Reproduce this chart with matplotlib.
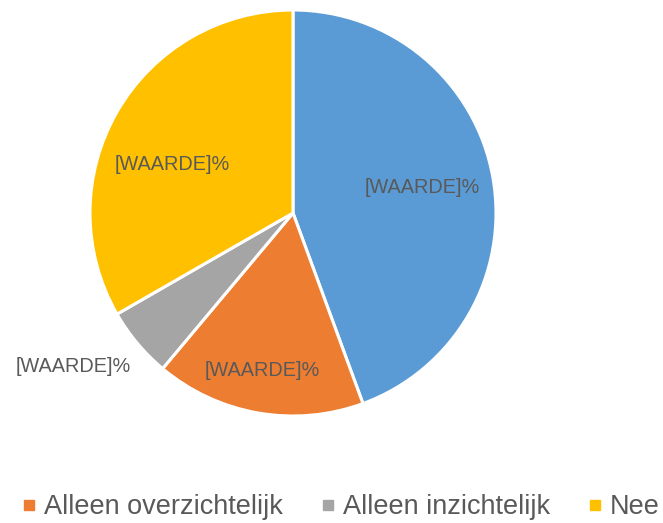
import matplotlib
matplotlib.use("Agg")
import matplotlib.pyplot as plt
from matplotlib.lines import Line2D
import numpy as np

categories = ["Ja", "Alleen overzichtelijk", "Alleen inzichtelijk", "Nee"]
values = [44.4, 16.7, 5.6, 33.3]
labels = ["[WAARDE]%", "[WAARDE]%", "[WAARDE]%", "[WAARDE]%"]
colors = ["#5B9BD5", "#ED7D31", "#A5A5A5", "#FFC000"]

label_r = [0.65, 0.79, 1.32, 0.64]
label_dang = [1.0, -1.0, -5.0, 8.0]

fig = plt.figure(figsize=(6.63, 5.23), dpi=100)
ax = fig.add_axes([90/663, 107/523, 406/663, 406/523])
wedges, _ = ax.pie(values, colors=colors, startangle=90, counterclock=False,
                   radius=1.0, wedgeprops=dict(edgecolor="white", linewidth=2.2))
ax.set_xlim(-1, 1)
ax.set_ylim(-1, 1)
ax.set_aspect("equal")
ax.axis("off")

for w, lab, r, da in zip(wedges, labels, label_r, label_dang):
    ang = np.deg2rad((w.theta1 + w.theta2) / 2 + da)
    ax.text(r*np.cos(ang), r*np.sin(ang), lab, ha="center", va="center",
            fontsize=14.3, color="#595959", family="Liberation Sans", clip_on=False)

handles = [Line2D([], [], marker="s", linestyle="none", color=c, markersize=7.5)
           for c in colors[1:]]
leg = fig.legend(handles, categories[1:], loc="center", bbox_to_anchor=(341/663, 1-507/523),
                 ncol=3, frameon=False, handlelength=0.5, handletextpad=0.3,
                 columnspacing=1.4, borderpad=0, borderaxespad=0,
                 prop=dict(family="Liberation Sans", size=19.5))
for t in leg.get_texts():
    t.set_color("#595959")

fig.savefig("out.png", dpi=100)
